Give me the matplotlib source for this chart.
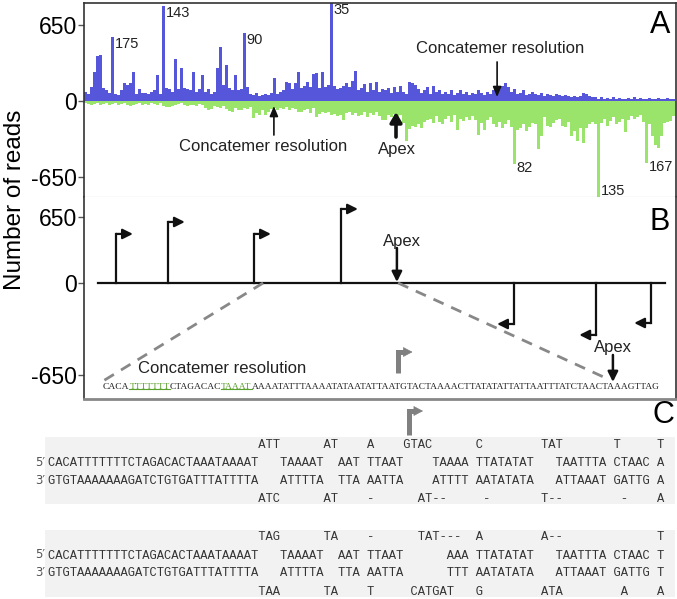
import matplotlib
matplotlib.use('Agg')
import matplotlib.pyplot as plt
from matplotlib.patches import Rectangle
from matplotlib.lines import Line2D
import numpy as np

plt.rcParams['font.family'] = ['Liberation Sans', 'DejaVu Sans']

W, H = 677, 599
BLUE = '#5656da'
GREEN = '#9ae46c'

# ---- panel A: reads per position (plus strand up, minus strand down)
plus_reads = [80, 60, 120, 250, 385, 390, 110, 90, 70, 545,
              60, 50, 90, 150, 140, 150, 250, 60, 100, 70,
              70, 60, 80, 90, 220, 60, 810, 110, 100, 80,
              360, 100, 280, 110, 100, 90, 250, 80, 100, 220,
              80, 100, 60, 80, 280, 460, 140, 310, 110, 90,
              222, 90, 100, 585, 120, 60, 50, 70, 45, 50,
              60, 50, 70, 200, 60, 80, 90, 165, 150, 100,
              150, 245, 110, 130, 160, 120, 230, 240, 110, 245,
              120, 140, 840, 130, 100, 110, 130, 150, 120, 175,
              260, 90, 110, 145, 80, 150, 90, 160, 80, 100,
              90, 110, 70, 120, 80, 130, 80, 60, 165, 150,
              140, 100, 70, 90, 120, 60, 130, 80, 90, 60,
              80, 60, 90, 50, 70, 90, 60, 80, 50, 70,
              60, 90, 70, 50, 80, 60, 90, 100, 110, 130,
              150, 120, 80, 100, 60, 70, 90, 50, 60, 80,
              60, 50, 70, 40, 60, 50, 40, 60, 50, 40,
              50, 40, 30, 40, 30, 40, 70, 60, 40, 30,
              30, 20, 30, 20, 25, 20, 30, 20, 25, 20,
              20, 25, 20, 30, 20, 25, 20, 20, 25, 20,
              20, 25, 20, 20, 25, 20, 20]
minus_reads = [20, 25, 30, 25, 20, 30, 25, 20, 30, 25,
               20, 30, 25, 20, 35, 40, 30, 25, 20, 30,
               25, 30, 20, 25, 30, 20, 40, 50, 55, 45,
               30, 25, 20, 35, 40, 35, 30, 40, 25, 30,
               60, 75, 70, 45, 50, 60, 40, 70, 85, 90,
               60, 80, 75, 60, 70, 50, 145, 100, 120, 80,
               120, 90, 70, 60, 80, 60, 70, 50, 80, 60,
               70, 90, 95, 80, 70, 100, 60, 135, 110, 90,
               100, 90, 120, 110, 130, 120, 160, 100, 90, 120,
               100, 130, 120, 90, 135, 100, 120, 90, 130, 160,
               160, 120, 135, 110, 140, 120, 190, 340, 240, 210,
               220, 200, 230, 180, 160, 150, 190, 130, 180, 200,
               150, 130, 180, 120, 250, 150, 170, 140, 160, 130,
               160, 290, 190, 250, 160, 140, 200, 220, 180, 230,
               200, 160, 220, 540, 250, 230, 200, 260, 220, 190,
               200, 410, 300, 140, 210, 220, 190, 160, 150, 210,
               220, 180, 300, 260, 340, 230, 355, 230, 200, 180,
               200, 820, 190, 150, 210, 170, 140, 200, 180, 150,
               265, 160, 130, 150, 140, 120, 180, 530, 200, 300,
               380, 400, 300, 190, 180, 170, 130]

plus_peak_idx = [9, 26, 53, 82]
plus_peak_lab = ['175', '143', '90', '35']
minus_peak_idx = [143, 171, 187]
minus_peak_lab = ['82', '135', '167']

# ---- panel B: schematic initiation sites
fwd_x = [10.2, 27.5, 56.2, 85.2]
fwd_h = [483, 601, 483, 729]
rev_x = [142.8, 170.2, 188.5]
rev_h = [-404, -512, -394]

seq_parts = ['CACA', 'TTTTTTT', 'CTAGACAC', 'TAAAT',
             'AAAATATTTAAAATATAATATTAATGTACTAAAACTTATATATTATTAATTTATCTAACTAAAGTTAG']
seq_green = [False, True, False, True, False]

# ---- panel C: hairpin alignments (column, text)
top5 = 'CACATTTTTTTCTAGACACTAAATAAAAT'
bot3 = 'GTGTAAAAAAAGATCTGTGATTTATTTTA'
hp1_top = [(29, 'ATT'), (38, 'AT'), (44, 'A'), (49, 'GTAC'), (59, 'C'), (68, 'TAT'), (78, 'T'), (84, 'T')]
hp1_5p = [(0, top5), (32, 'TAAAAT'), (40, 'AAT'), (44, 'TTAAT'), (53, 'TAAAA'), (59, 'TTATATAT'),
          (70, 'TAATTTA'), (78, 'CTAAC'), (84, 'A')]
hp1_3p = [(0, bot3), (32, 'ATTTTA'), (40, 'TTA'), (44, 'AATTA'), (53, 'ATTTT'), (59, 'AATATATA'),
          (70, 'ATTAAAT'), (78, 'GATTG'), (84, 'A')]
hp1_bot = [(29, 'ATC'), (38, 'AT'), (44, '-'), (51, 'AT--'), (60, '-'), (68, 'T--'), (79, '-'), (84, 'A')]
hp2_top = [(29, 'TAG'), (38, 'TA'), (44, '-'), (51, 'TAT---'), (59, 'A'), (68, 'A--'), (84, 'T')]
hp2_5p = [(0, top5), (32, 'TAAAAT'), (40, 'AAT'), (44, 'TTAAT'), (55, 'AAA'), (59, 'TTATATAT'),
          (70, 'TAATTTA'), (78, 'CTAAC'), (84, 'T')]
hp2_3p = [(0, bot3), (32, 'ATTTTA'), (40, 'TTA'), (44, 'AATTA'), (55, 'TTT'), (59, 'AATATATA'),
          (70, 'ATTAAAT'), (78, 'GATTG'), (84, 'T')]
hp2_bot = [(29, 'TAA'), (38, 'TA'), (44, 'T'), (50, 'CATGAT'), (59, 'G'), (68, 'ATA'), (79, 'A'), (84, 'A')]


def layout(tokens):
    line = [' '] * 86
    for col, s in tokens:
        line[col:col + len(s)] = list(s)
    return ''.join(line).rstrip()


def box(x0, y0, x1, y1):
    return [x0 / W, 1 - y1 / H, (x1 - x0) / W, (y1 - y0) / H]


def gray_bent(ax, x, y0, y1, tip, back):
    # thick gray promoter arrow: vertical stem, short arm, triangular head
    ax.plot([x, x, tip - back], [y0, y1, y1], color='#808080', lw=3.6,
            solid_capstyle='butt', solid_joinstyle='miter')
    ax.annotate('', xy=(tip, y1), xytext=(tip - back * 1.2, y1),
                arrowprops=dict(arrowstyle='-|>,head_length=0.6,head_width=0.32', lw=0.5,
                                color='#808080', mutation_scale=10, shrinkA=0, shrinkB=0))


fig = plt.figure(figsize=(W / 100, H / 100), dpi=100)

# ---------------- A
axA = fig.add_axes(box(84, 3, 676, 197))
idx = np.arange(len(plus_reads))
axA.bar(idx, plus_reads, width=0.8, color=BLUE, linewidth=0)
axA.bar(idx, -np.array(minus_reads), width=0.8, color=GREEN, linewidth=0)
axA.set_xlim(-0.5, 196.83)
axA.set_ylim(-821, 838)
axA.set_xticks([])
axA.set_yticks([650, 0, -650])
axA.set_yticklabels(['650', '0', '-650'], fontsize=16.5)
axA.tick_params(axis='y', length=4, width=1, color='#555', pad=1)
for i, lab in zip(plus_peak_idx, plus_peak_lab):
    axA.annotate(lab, (i, plus_reads[i]), xytext=(1.5, 0), textcoords='offset points',
                 ha='left', va='top', fontsize=10.5, color='#222')
for i, lab in zip(minus_peak_idx, minus_peak_lab):
    off = 4 if minus_reads[i] > 700 else -3
    axA.annotate(lab, (i, -minus_reads[i]), xytext=(1.5, off), textcoords='offset points',
                 ha='left', va='center', fontsize=10.5, color='#222')

axA.text(138.2, 453, 'Concatemer resolution', ha='center', va='center', fontsize=12, color='#222')
axA.annotate('', xy=(137.2, 34), xytext=(137.2, 334),
             arrowprops=dict(arrowstyle='-|>,head_length=0.6,head_width=0.25', lw=1.2, color='#111',
                             mutation_scale=10, shrinkA=0, shrinkB=0))
axA.text(59.2, -385, 'Concatemer resolution', ha='center', va='center', fontsize=12, color='#222')
axA.annotate('', xy=(62.8, -43), xytext=(62.8, -291),
             arrowprops=dict(arrowstyle='-|>,head_length=0.6,head_width=0.25', lw=1.2, color='#111',
                             mutation_scale=10, shrinkA=0, shrinkB=0))
axA.text(103.8, -419, 'Apex', ha='center', va='center', fontsize=12, color='#222')
axA.annotate('', xy=(103.5, -94), xytext=(103.5, -308),
             arrowprops=dict(arrowstyle='-|>,head_length=0.6,head_width=0.35', lw=2.6, color='#111',
                             mutation_scale=10, shrinkA=0, shrinkB=0))
for s in ['top', 'left', 'right']:
    axA.spines[s].set_color('#333')
    axA.spines[s].set_linewidth(1.2)
axA.spines['bottom'].set_color('#999')

# ---------------- B
axB = fig.add_axes(box(84, 197, 676, 399))
axB.set_xlim(-0.5, 196.83)
axB.set_ylim(-1143, 847)
axB.set_xticks([])
axB.set_yticks([650, 0, -906])
axB.set_yticklabels(['650', '0', '-650'], fontsize=16.5)
axB.tick_params(axis='y', length=4, width=1, color='#555', pad=1)
axB.spines['top'].set_visible(False)
for s in ['left', 'right']:
    axB.spines[s].set_color('#333')
    axB.spines[s].set_linewidth(1.2)
axB.spines['bottom'].set_color('#888')
axB.spines['bottom'].set_linewidth(2)

axB.plot([4.2, 193.2], [0, 0], color='#111', lw=1.6)
head = dict(arrowstyle='-|>,head_length=0.6,head_width=0.3', lw=1.6, color='#111',
            mutation_scale=10, shrinkA=0, shrinkB=0)
for x, h in zip(fwd_x, fwd_h):
    axB.plot([x, x], [0, h], color='#111', lw=1.6, solid_capstyle='projecting')
    axB.annotate('', xy=(x + 5.6, h), xytext=(x, h), arrowprops=head)
for x, h in zip(rev_x, rev_h):
    axB.plot([x, x], [0, h], color='#111', lw=1.6, solid_capstyle='projecting')
    axB.annotate('', xy=(x - 5.6, h), xytext=(x, h), arrowprops=head)

axB.plot([59.2, 4.8], [0, -985], color='#888', lw=2, dashes=(4, 3))
axB.plot([104.2, 174.8], [0, -955], color='#888', lw=2, dashes=(4, 3))

axB.text(105.5, 404, 'Apex', ha='center', va='center', fontsize=12, color='#222')
axB.annotate('', xy=(103.8, 10), xytext=(103.8, 345),
             arrowprops=dict(arrowstyle='-|>,head_length=0.6,head_width=0.3', lw=1.8, color='#111',
                             mutation_scale=10, shrinkA=0, shrinkB=0))
axB.text(175.8, -640, 'Apex', ha='center', va='center', fontsize=12, color='#222')
axB.annotate('', xy=(175.8, -975), xytext=(175.8, -709),
             arrowprops=dict(arrowstyle='-|>,head_length=0.6,head_width=0.3', lw=1.8, color='#111',
                             mutation_scale=10, shrinkA=0, shrinkB=0))
axB.text(45.5, -847, 'Concatemer resolution', ha='center', va='center', fontsize=12, color='#222')

gray_bent(axB, 104.2, -886, -680, 109.0, 2.6)

# sequence text with underlined green motifs
seq_texts = []
prev = None
for part, g in zip(seq_parts, seq_green):
    kw = dict(fontsize=6.8, family='Liberation Serif', color='#5aa02c' if g else '#222',
              va='center', ha='left')
    if prev is None:
        prev = axB.text(5.8, -1024, part, **kw)
    else:
        prev = axB.annotate(part, xy=(1, 0.5), xycoords=prev, **kw)
    seq_texts.append(prev)

# ---------------- C
axC = fig.add_axes([0, 0, 1, 1 - 399 / H], zorder=-1)
axC.set_xlim(0, W)
axC.set_ylim(H, 399)
axC.axis('off')
axC.add_patch(Rectangle((45, 437), 630, 67, facecolor='#f2f2f2', edgecolor='none'))
axC.add_patch(Rectangle((45, 530), 630, 67, facecolor='#f2f2f2', edgecolor='none'))

rows = [(445, hp1_top, None), (463, hp1_5p, "5\u2032"), (481, hp1_3p, "3\u2032"), (499, hp1_bot, None),
        (537, hp2_top, None), (556, hp2_5p, "5\u2032"), (573, hp2_3p, "3\u2032"), (592, hp2_bot, None)]
for y, toks, end in rows:
    axC.text(48, y, layout(toks), family='Liberation Mono', fontsize=8.7, va='center', ha='left',
             color='#333')
    if end:
        axC.text(45, y - 1, end, family='DejaVu Sans', fontsize=8.5, va='center', ha='right', color='#555')

gray_bent(axC, 409, 435, 411, 423, 8)

# labels
fig.text(15 / W, 1 - 200 / H, 'Number of reads', rotation=90, fontsize=17.5, ha='center', va='center')
fig.text(660 / W, 1 - 25 / H, 'A', fontsize=22, ha='center', va='center')
fig.text(660 / W, 1 - 222 / H, 'B', fontsize=22, ha='center', va='center')
fig.text(663 / W, 1 - 415 / H, 'C', fontsize=22, ha='center', va='center')

# underline the green motifs
fig.canvas.draw()
inv = fig.transFigure.inverted()
for t, g in zip(seq_texts, seq_green):
    if g:
        bb = t.get_window_extent()
        (x0, y0), (x1, _) = inv.transform([(bb.x0, bb.y0 + 1.5), (bb.x1, bb.y0 + 1.5)])
        fig.add_artist(Line2D([x0, x1], [y0, y0], color='#5aa02c', lw=0.8))

fig.savefig('out.png', dpi=100)
